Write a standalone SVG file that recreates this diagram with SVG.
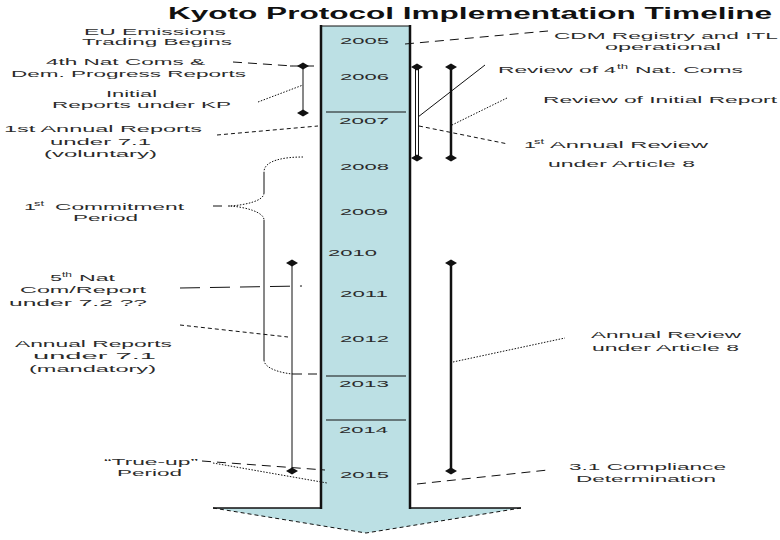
<svg xmlns="http://www.w3.org/2000/svg" width="780" height="540" viewBox="0 0 780 540">
<style>
text{font-family:"Liberation Sans",Arial,sans-serif;fill:#2b2b2b;}
.t{font-size:16px;font-weight:bold;fill:#111;}
.y{font-size:9.5px;}
.l{font-size:9.5px;}
.s{font-size:6.5px;}
.c{fill:none;stroke:#111;stroke-width:1;}
.ld{stroke-dasharray:9,6;}
.sd{stroke-dasharray:4,3;}
.dt{stroke-dasharray:1.5,1.5;}
.thin{stroke:#111;stroke-width:1;fill:none;}
.thick{stroke:#111;stroke-width:2.5;fill:none;}
</style>
<defs>
<polygon id="dm" points="-6,0 0,-3.5 6,0 0,3.5" fill="#111"/>
</defs>
<rect width="780" height="540" fill="#fff"/>

<g id="arrow">
<polygon points="320,26 410,26 410,508 521,508 366,533 213,508 320,508" fill="#bce0e4"/>
<line x1="320" y1="26" x2="410" y2="26" class="thin"/>
<line x1="321" y1="25" x2="321" y2="509" class="thick" stroke-width="2"/>
<line x1="410" y1="25" x2="410" y2="509" class="thick" stroke-width="2"/>
<line x1="213" y1="508" x2="321" y2="508" stroke="#111" stroke-width="1.5"/>
<line x1="410" y1="508" x2="521" y2="508" stroke="#111" stroke-width="1.5"/>
<polyline points="213,508 366,533 521,508" class="c sd"/>
<line x1="326" y1="112" x2="406" y2="112" class="thin"/>
<line x1="326" y1="376" x2="406" y2="376" class="thin"/>
<line x1="326" y1="420" x2="406" y2="420" class="thin"/>
</g>

<g id="title"><text class="t" x="168" y="19" textLength="604" lengthAdjust="spacingAndGlyphs">Kyoto Protocol Implementation Timeline</text></g>

<g id="years">
<text class="y" x="340" y="44" textLength="49" lengthAdjust="spacingAndGlyphs">2005</text>
<text class="y" x="340" y="80" textLength="49" lengthAdjust="spacingAndGlyphs">2006</text>
<text class="y" x="339" y="124" textLength="50" lengthAdjust="spacingAndGlyphs">2007</text>
<text class="y" x="340" y="170" textLength="49" lengthAdjust="spacingAndGlyphs">2008</text>
<text class="y" x="340" y="215" textLength="48" lengthAdjust="spacingAndGlyphs">2009</text>
<text class="y" x="328" y="256" textLength="49" lengthAdjust="spacingAndGlyphs">2010</text>
<text class="y" x="340" y="297" textLength="48" lengthAdjust="spacingAndGlyphs">2011</text>
<text class="y" x="340" y="342" textLength="49" lengthAdjust="spacingAndGlyphs">2012</text>
<text class="y" x="339" y="387" textLength="50" lengthAdjust="spacingAndGlyphs">2013</text>
<text class="y" x="339" y="433" textLength="49" lengthAdjust="spacingAndGlyphs">2014</text>
<text class="y" x="340" y="478" textLength="49" lengthAdjust="spacingAndGlyphs">2015</text>
</g>

<g id="eu-ets">
<text class="l" x="84" y="34.5" textLength="142" lengthAdjust="spacingAndGlyphs">EU Emissions</text>
<text class="l" x="82" y="45" textLength="150" lengthAdjust="spacingAndGlyphs">Trading Begins</text>
</g>
<g id="nat-coms-4">
<text class="l" x="46" y="65" textLength="159" lengthAdjust="spacingAndGlyphs">4th Nat Coms &amp;</text>
<text class="l" x="11" y="77" textLength="235" lengthAdjust="spacingAndGlyphs">Dem. Progress Reports</text>
</g>
<g id="initial-reports">
<text class="l" x="106" y="97" textLength="51" lengthAdjust="spacingAndGlyphs">Initial</text>
<text class="l" x="52" y="108" textLength="179" lengthAdjust="spacingAndGlyphs">Reports under KP</text>
</g>
<g id="annual-reports-voluntary">
<text class="l" x="4" y="131.5" textLength="198" lengthAdjust="spacingAndGlyphs">1st Annual Reports</text>
<text class="l" x="50" y="145" textLength="101" lengthAdjust="spacingAndGlyphs">under 7.1</text>
<text class="l" x="44" y="157" textLength="113" lengthAdjust="spacingAndGlyphs">(voluntary)</text>
</g>
<g id="commitment-period">
<text class="l" x="24" y="210" textLength="12" lengthAdjust="spacingAndGlyphs">1</text>
<text class="s" x="34" y="206" textLength="10" lengthAdjust="spacingAndGlyphs">st</text>
<text class="l" x="55" y="210" textLength="129" lengthAdjust="spacingAndGlyphs">Commitment</text>
<text class="l" x="73" y="221" textLength="65" lengthAdjust="spacingAndGlyphs">Period</text>
</g>
<g id="nat-com-5">
<text class="l" x="50" y="281" textLength="12" lengthAdjust="spacingAndGlyphs">5</text>
<text class="s" x="62" y="277" textLength="10" lengthAdjust="spacingAndGlyphs">th</text>
<text class="l" x="79" y="281" textLength="36" lengthAdjust="spacingAndGlyphs">Nat</text>
<text class="l" x="20" y="293" textLength="126" lengthAdjust="spacingAndGlyphs">Com/Report</text>
<text class="l" x="9" y="306" textLength="138" lengthAdjust="spacingAndGlyphs">under  7.2 ??</text>
</g>
<g id="annual-reports-mandatory">
<text class="l" x="15" y="347" textLength="157" lengthAdjust="spacingAndGlyphs">Annual Reports</text>
<text class="l" x="33" y="359" textLength="123" lengthAdjust="spacingAndGlyphs">under 7.1</text>
<text class="l" x="29" y="372" textLength="127" lengthAdjust="spacingAndGlyphs">(mandatory)</text>
</g>
<g id="true-up">
<text class="l" x="104" y="465" textLength="94" lengthAdjust="spacingAndGlyphs">“True-up”</text>
<text class="l" x="117" y="476" textLength="65" lengthAdjust="spacingAndGlyphs">Period</text>
</g>
<g id="cdm-itl">
<text class="l" x="554" y="39" textLength="224" lengthAdjust="spacingAndGlyphs">CDM Registry and ITL</text>
<text class="l" x="605" y="50" textLength="116" lengthAdjust="spacingAndGlyphs">operational</text>
</g>
<g id="review-nat-coms-4">
<text class="l" x="498" y="73" textLength="100" lengthAdjust="spacingAndGlyphs">Review of</text>
<text class="l" x="604" y="73" textLength="12" lengthAdjust="spacingAndGlyphs">4</text>
<text class="s" x="617" y="69" textLength="11" lengthAdjust="spacingAndGlyphs">th</text>
<text class="l" x="635" y="73" textLength="108" lengthAdjust="spacingAndGlyphs">Nat. Coms</text>
</g>
<g id="review-initial">
<text class="l" x="543" y="103" textLength="234" lengthAdjust="spacingAndGlyphs">Review of Initial Report</text>
</g>
<g id="first-annual-review">
<text class="l" x="524" y="148" textLength="12" lengthAdjust="spacingAndGlyphs">1</text>
<text class="s" x="534" y="144" textLength="10" lengthAdjust="spacingAndGlyphs">st</text>
<text class="l" x="550" y="148" textLength="158" lengthAdjust="spacingAndGlyphs">Annual Review</text>
<text class="l" x="548" y="167" textLength="147" lengthAdjust="spacingAndGlyphs">under Article 8</text>
</g>
<g id="annual-review">
<text class="l" x="591" y="338" textLength="150" lengthAdjust="spacingAndGlyphs">Annual Review</text>
<text class="l" x="592" y="351" textLength="147" lengthAdjust="spacingAndGlyphs">under Article 8</text>
</g>
<g id="compliance">
<text class="l" x="569" y="470" textLength="157" lengthAdjust="spacingAndGlyphs">3.1 Compliance</text>
<text class="l" x="576" y="482" textLength="140" lengthAdjust="spacingAndGlyphs">Determination</text>
</g>

<g id="connectors">
<!-- spans -->
<line x1="303" y1="66" x2="303" y2="113" class="thin"/>
<line x1="290" y1="66" x2="314" y2="66" class="thin"/>
<use href="#dm" x="303" y="66"/><use href="#dm" x="303" y="113"/>
<line x1="292" y1="263" x2="292" y2="471" class="thin"/>
<use href="#dm" x="292" y="263"/><use href="#dm" x="292" y="471"/>
<line x1="417" y1="67" x2="417" y2="158" stroke="#111" stroke-width="4"/>
<line x1="417" y1="69" x2="417" y2="156" stroke="#fff" stroke-width="2"/>
<use href="#dm" x="417" y="67"/><use href="#dm" x="417" y="158"/>
<line x1="451" y1="67" x2="451" y2="158" class="thick"/>
<use href="#dm" x="451" y="67"/><use href="#dm" x="451" y="158"/>
<line x1="451" y1="263" x2="451" y2="471" class="thick"/>
<use href="#dm" x="451" y="263"/><use href="#dm" x="451" y="471"/>
<!-- brace -->
<path d="M303,157 C285,157 264,160 264,172" class="c dt"/>
<line x1="264" y1="172" x2="264" y2="193" class="thin"/>
<path d="M264,193 C264,201 245,205 230,206 C245,207 264,212 264,220" class="c dt"/>
<line x1="264" y1="220" x2="264" y2="360" class="thin"/>
<path d="M264,360 C264,368 280,373 293,374" class="c dt"/>
<line x1="293" y1="374" x2="320" y2="374" class="c ld"/>
<line x1="213" y1="206" x2="230" y2="206" class="c ld"/>
<!-- leaders left -->
<line x1="233" y1="62" x2="293" y2="66" class="c ld"/>
<line x1="258" y1="102" x2="303" y2="85" class="c dt"/>
<line x1="217" y1="135" x2="318" y2="126" class="c sd"/>
<line x1="180" y1="288" x2="302" y2="286" class="c" stroke-dasharray="20,10"/>
<line x1="180" y1="325" x2="288" y2="337" class="c sd"/>
<line x1="202" y1="461" x2="325" y2="470" class="c ld"/>
<line x1="213" y1="463" x2="327" y2="483" class="c dt"/>
<!-- leaders right -->
<line x1="405" y1="44" x2="548" y2="31" class="c ld"/>
<line x1="485" y1="65" x2="418" y2="117" class="thin"/>
<line x1="507" y1="98" x2="452" y2="125" class="c dt"/>
<line x1="419" y1="126" x2="508" y2="144" class="c sd"/>
<line x1="453" y1="362" x2="565" y2="338" class="c dt"/>
<line x1="417" y1="484" x2="548" y2="470" class="c ld"/>
</g>
</svg>
